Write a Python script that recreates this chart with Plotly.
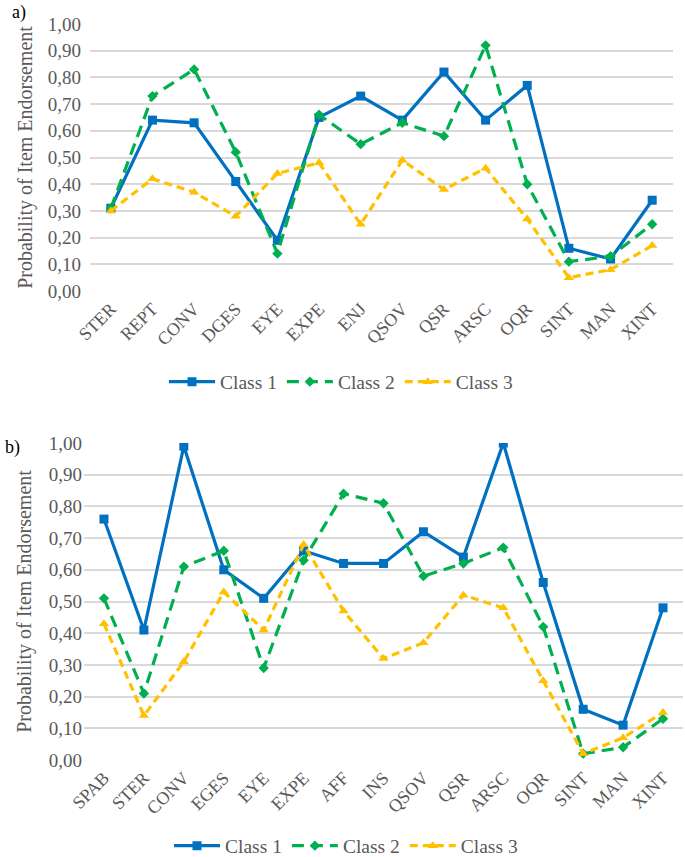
import plotly.graph_objects as go

# ---- Panel a) data ----
cats_a = ["STER", "REPT", "CONV", "DGES", "EYE", "EXPE", "ENJ", "QSOV", "QSR", "ARSC", "OQR", "SINT", "MAN", "XINT"]
a_class1 = [0.31, 0.64, 0.63, 0.41, 0.19, 0.65, 0.73, 0.64, 0.82, 0.64, 0.77, 0.16, 0.12, 0.34]
a_class2 = [0.31, 0.73, 0.83, 0.52, 0.14, 0.66, 0.55, 0.63, 0.58, 0.92, 0.40, 0.11, 0.13, 0.25]
a_class3 = [0.30, 0.42, 0.37, 0.28, 0.44, 0.48, 0.25, 0.49, 0.38, 0.46, 0.27, 0.05, 0.08, 0.17]

# ---- Panel b) data ----
cats_b = ["SPAB", "STER", "CONV", "EGES", "EYE", "EXPE", "AFF", "INS", "QSOV", "QSR", "ARSC", "OQR", "SINT", "MAN", "XINT"]
b_class1 = [0.76, 0.41, 0.99, 0.60, 0.51, 0.66, 0.62, 0.62, 0.72, 0.64, 1.00, 0.56, 0.16, 0.11, 0.48]
b_class2 = [0.51, 0.21, 0.61, 0.66, 0.29, 0.63, 0.84, 0.81, 0.58, 0.62, 0.67, 0.42, 0.02, 0.04, 0.13]
b_class3 = [0.43, 0.14, 0.31, 0.53, 0.41, 0.68, 0.47, 0.32, 0.37, 0.52, 0.48, 0.25, 0.02, 0.07, 0.15]

series_names = ["Class 1", "Class 2", "Class 3"]
ytick_vals = [0, 0.1, 0.2, 0.3, 0.4, 0.5, 0.6, 0.7, 0.8, 0.9, 1.0]

styles = [
    dict(color="#0070C0", dash="solid", symbol="square", msize=9),
    dict(color="#00B050", dash="12px,7px", symbol="diamond", msize=8),
    dict(color="#FFC000", dash="8px,5px", symbol="triangle-up", msize=9),
]

FONT = "Liberation Serif"
GREY = "#595959"

fig = go.Figure()

for vals, name, st in zip([a_class1, a_class2, a_class3], series_names, styles):
    fig.add_trace(go.Scatter(
        x=cats_a, y=vals, name=name, mode="lines+markers",
        line=dict(color=st["color"], width=3.2, dash=st["dash"]),
        marker=dict(symbol=st["symbol"], size=st["msize"], color=st["color"]),
        xaxis="x", yaxis="y", legend="legend",
    ))

for vals, name, st in zip([b_class1, b_class2, b_class3], series_names, styles):
    fig.add_trace(go.Scatter(
        x=cats_b, y=vals, name=name, mode="lines+markers",
        line=dict(color=st["color"], width=3.2, dash=st["dash"]),
        marker=dict(symbol=st["symbol"], size=st["msize"], color=st["color"]),
        xaxis="x2", yaxis="y2", legend="legend2",
    ))

W, H = 685, 857

def yd(top_px, bot_px):
    return [1 - bot_px / H, 1 - top_px / H]

common_x = dict(
    type="category", tickangle=-45, showgrid=False, showline=False, zeroline=False,
    ticks="", tickfont=dict(family=FONT, size=18, color=GREY), ticklabelstandoff=3,
    automargin=False,
)
common_y = dict(
    range=[0, 1.0], tickvals=ytick_vals, tickformat=".2f",
    showgrid=True, gridcolor="#D9D9D9", gridwidth=1.5, zeroline=False, showline=False,
    ticks="", tickfont=dict(family=FONT, size=19, color=GREY), automargin=False,
)
ytitle = "Probability of Item Endorsement"
ytitle_font = dict(family=FONT, size=20, color=GREY)

legend_common = dict(
    orientation="h", xanchor="center", yanchor="middle",
    font=dict(family=FONT, size=19.5, color=GREY), bgcolor="rgba(0,0,0,0)",
    itemwidth=46, tracegroupgap=0,
)

fig.update_layout(
    template="none",
    width=W, height=H, autosize=False,
    margin=dict(l=0, r=0, t=0, b=0, autoexpand=False),
    paper_bgcolor="white", plot_bgcolor="white",
    separators=", ",
    font=dict(family=FONT, color=GREY),
    xaxis=dict(domain=[90 / W, 673 / W], anchor="y", range=[-0.5, len(cats_a) - 0.5], **common_x),
    yaxis=dict(domain=yd(24, 291), anchor="x", ticklabelstandoff=8,
               title=dict(text=ytitle, font=ytitle_font, standoff=9), **common_y),
    xaxis2=dict(domain=[84 / W, 683 / W], anchor="y2", range=[-0.5, len(cats_b) - 0.5], **common_x),
    yaxis2=dict(domain=yd(443, 760), anchor="x2", ticklabelstandoff=1,
                title=dict(text=ytitle, font=ytitle_font, standoff=11), **common_y),
    legend=dict(x=341 / W, y=1 - 382 / H, **legend_common),
    legend2=dict(x=346 / W, y=1 - 846 / H, **legend_common),
    annotations=[
        dict(text="a)", x=10 / W, y=1 - 12 / H, xref="paper", yref="paper", xanchor="left", yanchor="middle",
             showarrow=False, font=dict(family=FONT, size=18, color="black")),
        dict(text="b)", x=3 / W, y=1 - 447 / H, xref="paper", yref="paper", xanchor="left", yanchor="middle",
             showarrow=False, font=dict(family=FONT, size=18, color="black")),
    ],
)

fig.write_html("out.html", config={"displayModeBar": False},
               post_script="document.body.style.margin='0';document.body.style.padding='0';")
